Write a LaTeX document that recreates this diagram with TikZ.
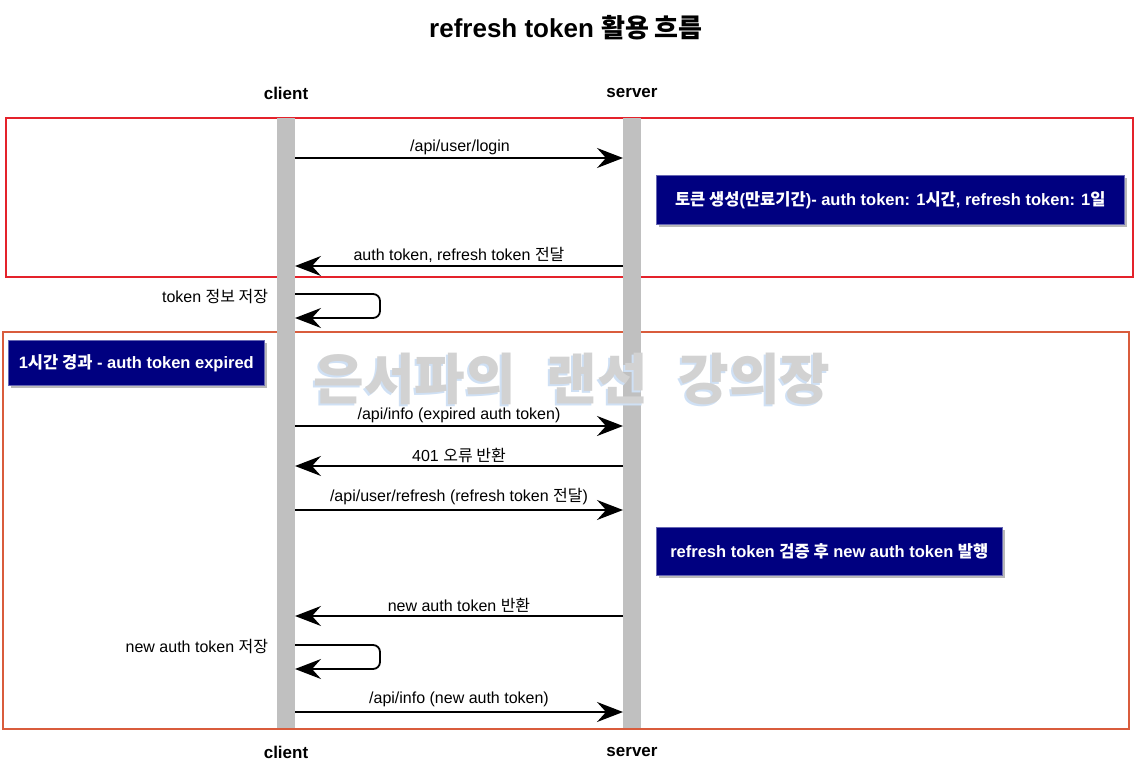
\documentclass[tikz,border=0pt]{standalone}
\usepackage{fontspec}
\setmainfont{Liberation Sans}
\newfontfamily\krfont{Noto Sans CJK KR}
\usetikzlibrary{arrows.meta,shadows}
\newcommand\ko[1]{{\krfont #1}}
\newcommand\wmtext{은서파의\hspace{18pt} 랜선\hspace{18pt} 강의장}
\definecolor{notebg}{HTML}{000080}
\definecolor{boxred}{HTML}{E4222B}
\definecolor{boxorange}{HTML}{D95C3C}
\definecolor{lifegray}{HTML}{C0C0C0}
\definecolor{wmblue}{HTML}{CFE0F4}
\definecolor{wmgray}{HTML}{D2D2D2}

\begin{document}
\begin{tikzpicture}[x=1pt, y=-1pt, line width=1.8pt,
  msg/.style={-{Stealth[length=26pt,width=20pt,inset=9pt]}},
  lbl/.style={font=\fontsize{16}{18}\selectfont, inner sep=1pt, anchor=south},
  actor/.style={font=\bfseries\fontsize{17}{19}\selectfont, inner sep=0pt},
  note/.style={fill=notebg, draw=notebg!60!white, line width=0.6pt, text=white,
    font=\bfseries\fontsize{16.5}{18}\selectfont, inner sep=0pt, anchor=north west,
    drop shadow={shadow xshift=2.5pt, shadow yshift=-2.5pt, opacity=0.55}},
  wm/.style={font=\bfseries\fontsize{55}{60}\selectfont\krfont, inner sep=0pt}]
  \useasboundingbox (0,0) rectangle (1137,771);
  % title
  \node[font=\bfseries\fontsize{26}{28}\selectfont] (title) at (566,28) {refresh token \ko{활용 흐름}};
  % group frames
  \draw[boxred, line width=1.4pt] (6,118) rectangle (1133,277);
  \draw[boxorange, line width=1.4pt] (3,332) rectangle (1129,729);
  % lifelines
  \fill[lifegray] (277,118) rectangle (295,728);
  \fill[lifegray] (623,118) rectangle (641,728);
  \node[actor] (client) at (286,93) {client};
  \node[actor] (server) at (632,93) {server};
  \node[actor] (clientb) at (286,752) {client};
  \node[actor] (serverb) at (632,752) {server};
  % watermark
  \node[wm, text=wmblue] at (570,381) {\wmtext};
  \node[wm, text=wmgray] (mark) at (572,379) {\wmtext};
  % points on the lifelines
  \coordinate (c1) at (295,158);  \coordinate (s1) at (623,158);
  \coordinate (c2) at (295,266);  \coordinate (s2) at (623,266);
  \coordinate (c3) at (295,294);  \coordinate (c4) at (295,318);
  \coordinate (c5) at (295,426);  \coordinate (s5) at (623,426);
  \coordinate (c6) at (295,466);  \coordinate (s6) at (623,466);
  \coordinate (c7) at (295,510);  \coordinate (s7) at (623,510);
  \coordinate (c8) at (295,616);  \coordinate (s8) at (623,616);
  \coordinate (c9) at (295,645);  \coordinate (c10) at (295,669);
  \coordinate (c11) at (295,712); \coordinate (s11) at (623,712);
  % messages
  \draw[msg] (c1) -- (s1);
  \node[lbl] (m1) at (460,157) {/api/user/login};
  \node[note, minimum width=468pt, minimum height=49pt] (n1) at (656,175) {\ko{토큰 생성}(\ko{만료기간})- auth token: 1\ko{시간}, refresh token: 1\ko{일}};
  \draw[msg] (s2) -- (c2);
  \node[lbl] (m2) at (459,264) {auth token, refresh token \ko{전달}};
  \draw[msg, rounded corners=7pt] (c3) -- (380,294) -- (380,318) -- (c4);
  \node[font=\fontsize{16}{18}\selectfont, anchor=east, inner sep=1pt] (m3) at (270,297) {token \ko{정보 저장}};
  \node[note, minimum width=256pt, minimum height=45pt] (n2) at (8,340) {1\ko{시간 경과} - auth token expired};
  \draw[msg] (c5) -- (s5);
  \node[lbl] (m4) at (459,425) {/api/info (expired auth token)};
  \draw[msg] (s6) -- (c6);
  \node[lbl] (m5) at (459,465) {401 \ko{오류 반환}};
  \draw[msg] (c7) -- (s7);
  \node[lbl] (m6) at (459,507) {/api/user/refresh (refresh token \ko{전달})};
  \node[note, minimum width=346pt, minimum height=48pt] (n3) at (656,527) {refresh token \ko{검증 후} new auth token \ko{발행}};
  \draw[msg] (s8) -- (c8);
  \node[lbl] (m7) at (459,614) {new auth token \ko{반환}};
  \draw[msg, rounded corners=7pt] (c9) -- (380,645) -- (380,669) -- (c10);
  \node[font=\fontsize{16}{18}\selectfont, anchor=east, inner sep=1pt] (m8) at (270,647) {new auth token \ko{저장}};
  \draw[msg] (c11) -- (s11);
  \node[lbl] (m9) at (459,709) {/api/info (new auth token)};
\end{tikzpicture}
\end{document}
